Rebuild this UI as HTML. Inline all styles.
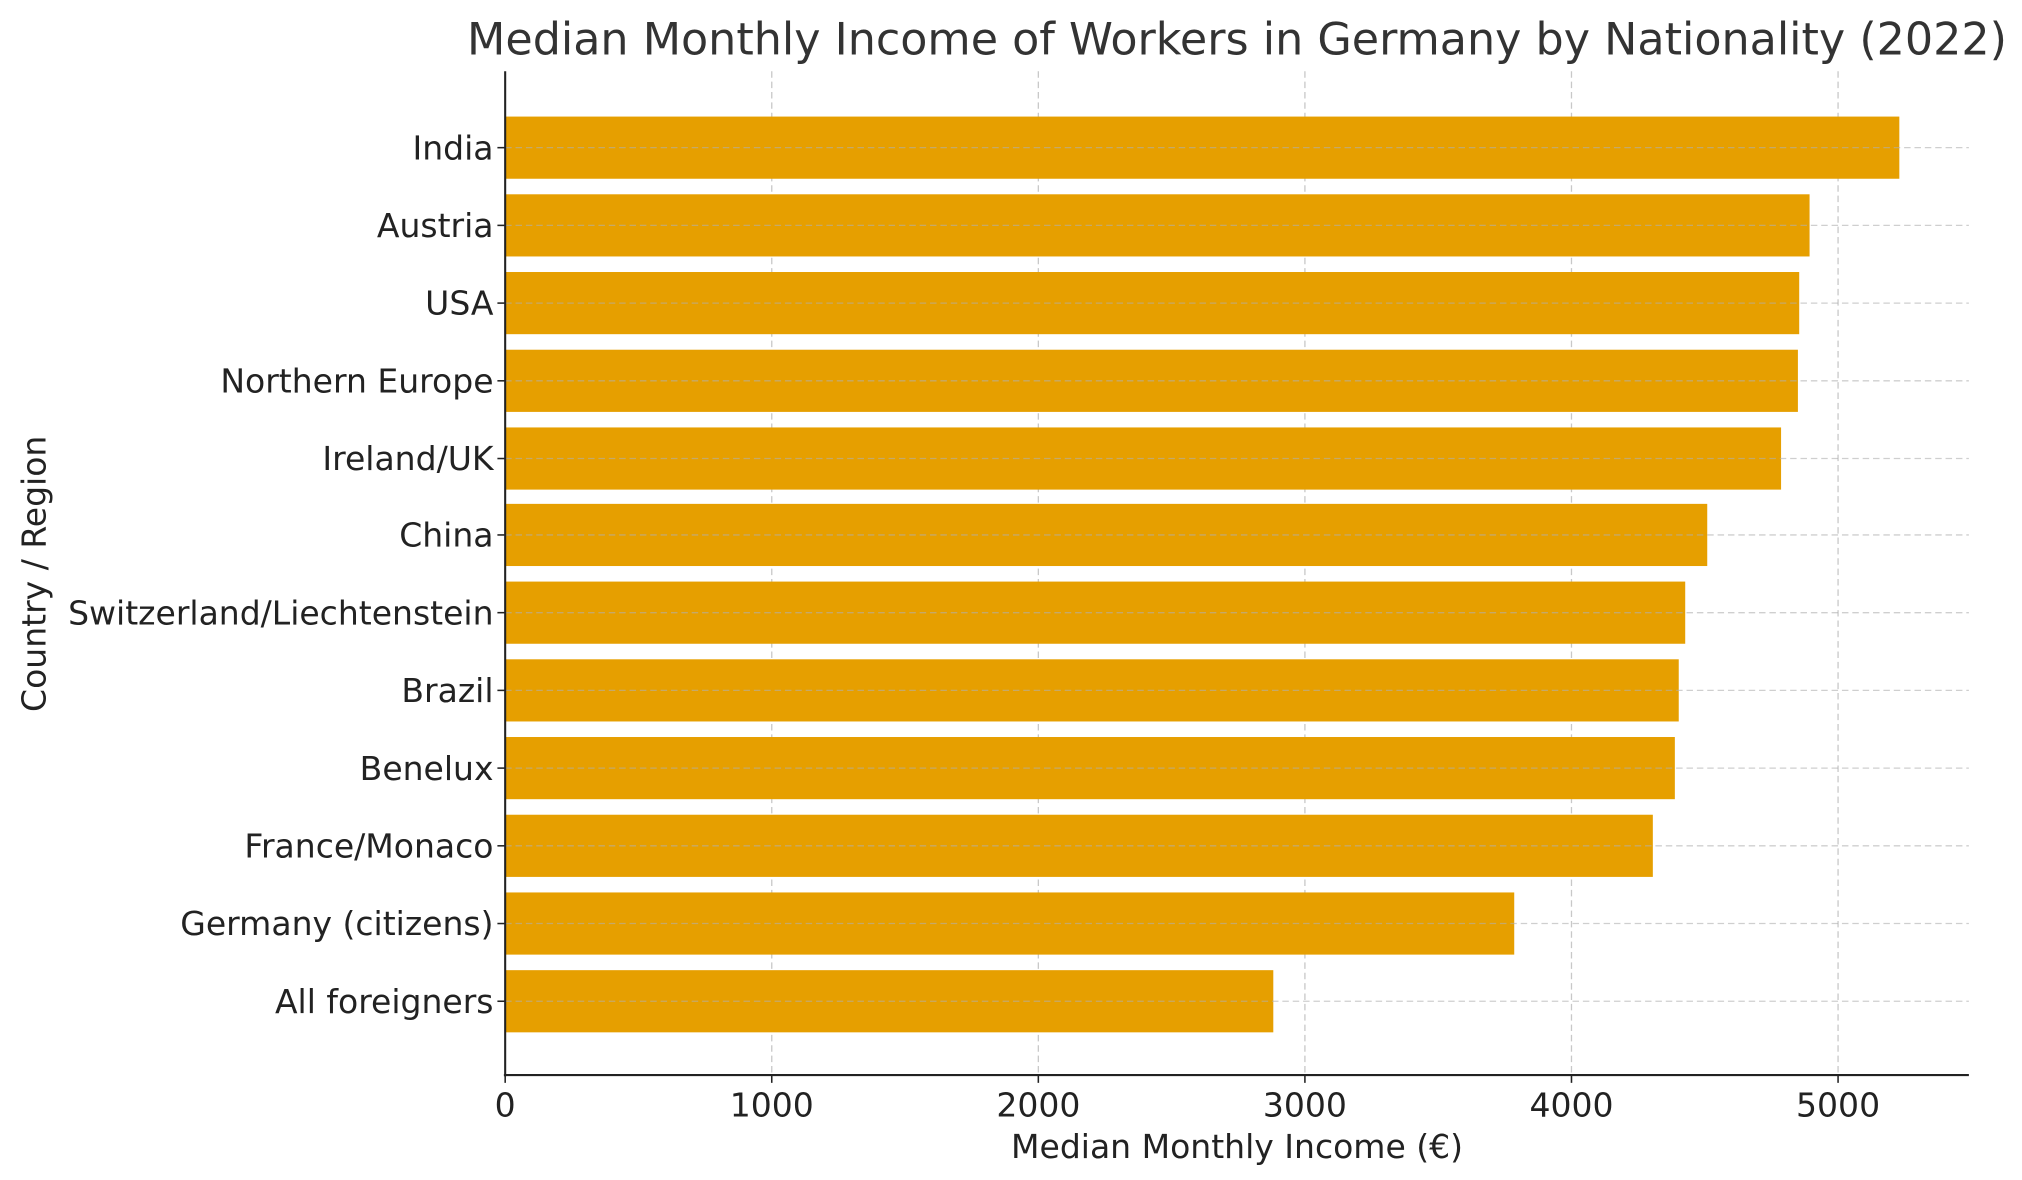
<!DOCTYPE html>
<html><head><meta charset="utf-8"><style>
html,body{margin:0;padding:0;background:#fff;}
svg{display:block;}
text{font-family:"DejaVu Sans","Liberation Sans",sans-serif;fill:#222;}
</style></head><body>
<svg width="2022" height="1180" viewBox="0 0 1561 911" preserveAspectRatio="none" xmlns="http://www.w3.org/2000/svg">
<rect width="1561" height="911" fill="#fff"/>
<g stroke="#c8c8c8" stroke-width="1" stroke-dasharray="5,3">
<line x1="595.8" y1="55" x2="595.8" y2="830"/>
<line x1="801.6" y1="55" x2="801.6" y2="830"/>
<line x1="1007.4" y1="55" x2="1007.4" y2="830"/>
<line x1="1213.2" y1="55" x2="1213.2" y2="830"/>
<line x1="1419" y1="55" x2="1419" y2="830"/>
</g>
<g fill="#E69F00">
<rect x="390" y="90" width="1076.3" height="48"/>
<rect x="390" y="150" width="1007" height="48"/>
<rect x="390" y="210" width="999" height="48"/>
<rect x="390" y="270" width="998" height="48"/>
<rect x="390" y="330" width="985" height="48"/>
<rect x="390" y="389" width="928" height="48"/>
<rect x="390" y="449" width="911" height="48"/>
<rect x="390" y="509" width="906" height="48"/>
<rect x="390" y="569" width="903" height="48"/>
<rect x="390" y="629" width="886" height="48"/>
<rect x="390" y="689" width="779" height="48"/>
<rect x="390" y="749" width="593" height="48"/>
</g>
<g stroke="#b0b0b0" stroke-width="1" stroke-dasharray="5,3" opacity="0.6">
<line x1="390" y1="114" x2="1520" y2="114"/>
<line x1="390" y1="174" x2="1520" y2="174"/>
<line x1="390" y1="234" x2="1520" y2="234"/>
<line x1="390" y1="294" x2="1520" y2="294"/>
<line x1="390" y1="354" x2="1520" y2="354"/>
<line x1="390" y1="413" x2="1520" y2="413"/>
<line x1="390" y1="473" x2="1520" y2="473"/>
<line x1="390" y1="533" x2="1520" y2="533"/>
<line x1="390" y1="593" x2="1520" y2="593"/>
<line x1="390" y1="653" x2="1520" y2="653"/>
<line x1="390" y1="713" x2="1520" y2="713"/>
<line x1="390" y1="773" x2="1520" y2="773"/>
</g>
<g stroke="#222" stroke-width="1.6">
<line x1="390" y1="55" x2="390" y2="831"/>
<line x1="389" y1="830" x2="1520" y2="830"/>
</g>
<g stroke="#222" stroke-width="1.2">
<line x1="390" y1="830" x2="390" y2="836"/><line x1="595.8" y1="830" x2="595.8" y2="836"/><line x1="801.6" y1="830" x2="801.6" y2="836"/><line x1="1007.4" y1="830" x2="1007.4" y2="836"/><line x1="1213.2" y1="830" x2="1213.2" y2="836"/><line x1="1419" y1="830" x2="1419" y2="836"/>
<line x1="384" y1="114" x2="390" y2="114"/><line x1="384" y1="174" x2="390" y2="174"/><line x1="384" y1="234" x2="390" y2="234"/><line x1="384" y1="294" x2="390" y2="294"/><line x1="384" y1="354" x2="390" y2="354"/><line x1="384" y1="413" x2="390" y2="413"/><line x1="384" y1="473" x2="390" y2="473"/><line x1="384" y1="533" x2="390" y2="533"/><line x1="384" y1="593" x2="390" y2="593"/><line x1="384" y1="653" x2="390" y2="653"/><line x1="384" y1="713" x2="390" y2="713"/><line x1="384" y1="773" x2="390" y2="773"/>
</g>
<g font-size="25.5" text-anchor="middle">
<text x="390" y="862">0</text><text x="595.8" y="862">1000</text><text x="801.6" y="862">2000</text><text x="1007.4" y="862">3000</text><text x="1213.2" y="862">4000</text><text x="1419" y="862">5000</text>
</g>
<g font-size="25.5" text-anchor="end">
<text x="381" y="123">India</text>
<text x="381" y="183">Austria</text>
<text x="381" y="243">USA</text>
<text x="381" y="303">Northern Europe</text>
<text x="381" y="363">Ireland/UK</text>
<text x="381" y="422">China</text>
<text x="381" y="482">Switzerland/Liechtenstein</text>
<text x="381" y="542">Brazil</text>
<text x="381" y="602">Benelux</text>
<text x="381" y="662">France/Monaco</text>
<text x="381" y="722">Germany (citizens)</text>
<text x="381" y="782">All foreigners</text>
</g>
<text x="955" y="894" font-size="25.5" text-anchor="middle">Median Monthly Income (€)</text>
<text transform="translate(35,443) rotate(-90)" font-size="25.5" text-anchor="middle">Country / Region</text>
<text x="955" y="42" font-size="34.3" text-anchor="middle" style="fill:#333">Median Monthly Income of Workers in Germany by Nationality (2022)</text>
</svg>
</body></html>
